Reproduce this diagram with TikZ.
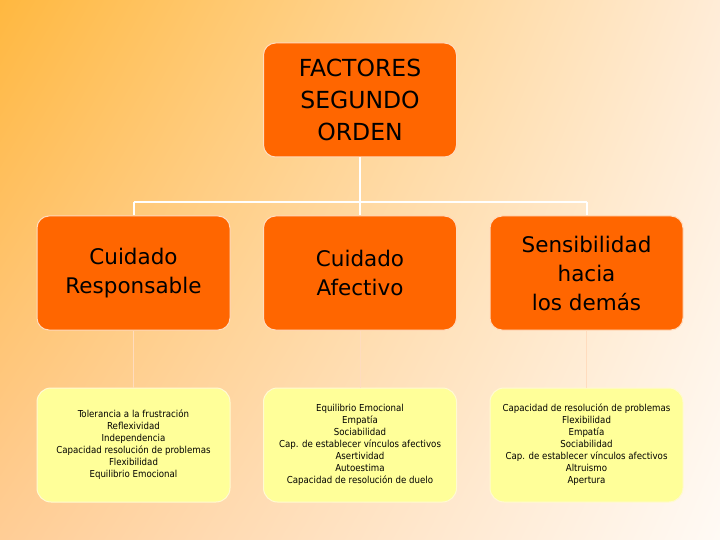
\documentclass[tikz,border=0pt]{standalone}
\usepackage{fontspec}
\usetikzlibrary{shadings}
\setmainfont{DejaVu Sans}
\newfontfamily\smallf{DejaVu Sans Condensed}
\definecolor{bgul}{RGB}{255,184,64}
\definecolor{bgur}{RGB}{255,236,215}
\definecolor{bgll}{RGB}{255,205,150}
\definecolor{bglr}{RGB}{255,250,245}
\definecolor{boxor}{RGB}{255,102,0}
\definecolor{boxye}{RGB}{255,255,153}
\definecolor{edgeor}{RGB}{255,220,190}
\definecolor{edgeye}{RGB}{255,250,210}
\begin{document}
\begin{tikzpicture}[x=1pt,y=-1pt,
  obox/.style={draw=edgeor,line width=1pt,fill=boxor,rounded corners=12pt,minimum width=193pt,minimum height=114pt,align=center,inner sep=2pt},
  ybox/.style={draw=edgeye,line width=1pt,fill=boxye,rounded corners=14pt,minimum width=193pt,minimum height=114pt,align=center,font=\smallf\fontsize{9.6}{12}\selectfont},
  big/.style={font=\fontsize{23.5}{32}\selectfont},
  mid/.style={font=\fontsize{21.5}{29}\selectfont},
  con/.style={draw=white,line width=2pt},
  fcon/.style={draw=edgeor,line width=1pt}]
\shade[upper left=bgul,upper right=bgur,lower left=bgll,lower right=bglr] (0,0) rectangle (720,540);
\useasboundingbox (0,0) rectangle (720,540);
\node[obox,big] (top) at (360,100) {FACTORES\\SEGUNDO\\ORDEN};
\node[obox,mid] (m1) at (133.5,273) {Cuidado\\Responsable};
\node[obox,mid] (m2) at (360,273) {Cuidado\\Afectivo};
\node[obox,mid] (m3) at (586.5,273) {Sensibilidad\\hacia\\los demás};
\node[ybox] (b1) at (133.5,445) {Tolerancia a la frustración\\Reflexividad\\Independencia\\Capacidad resolución de problemas\\Flexibilidad\\Equilibrio Emocional};
\node[ybox] (b2) at (360,445) {Equilibrio Emocional\\Empatía\\Sociabilidad\\Cap. de establecer vínculos afectivos\\Asertividad\\Autoestima\\Capacidad de resolución de duelo};
\node[ybox] (b3) at (586.5,445) {Capacidad de resolución de problemas\\Flexibilidad\\Empatía\\Sociabilidad\\Cap. de establecer vínculos afectivos\\Altruismo\\Apertura};
\coordinate (h) at (360,202);
\coordinate (hl) at (133.5,202);
\coordinate (hr) at (586.5,202);
\draw[con] (top.south) -- (h);
\draw[con] (hl) -- (hr);
\draw[con] (hl) -- (m1.north);
\draw[con] (h) -- (m2.north);
\draw[con] (hr) -- (m3.north);
\draw[fcon] (m1.south) -- (b1.north);
\draw[fcon] (m2.south) -- (b2.north);
\draw[fcon] (m3.south) -- (b3.north);
\end{tikzpicture}
\end{document}
